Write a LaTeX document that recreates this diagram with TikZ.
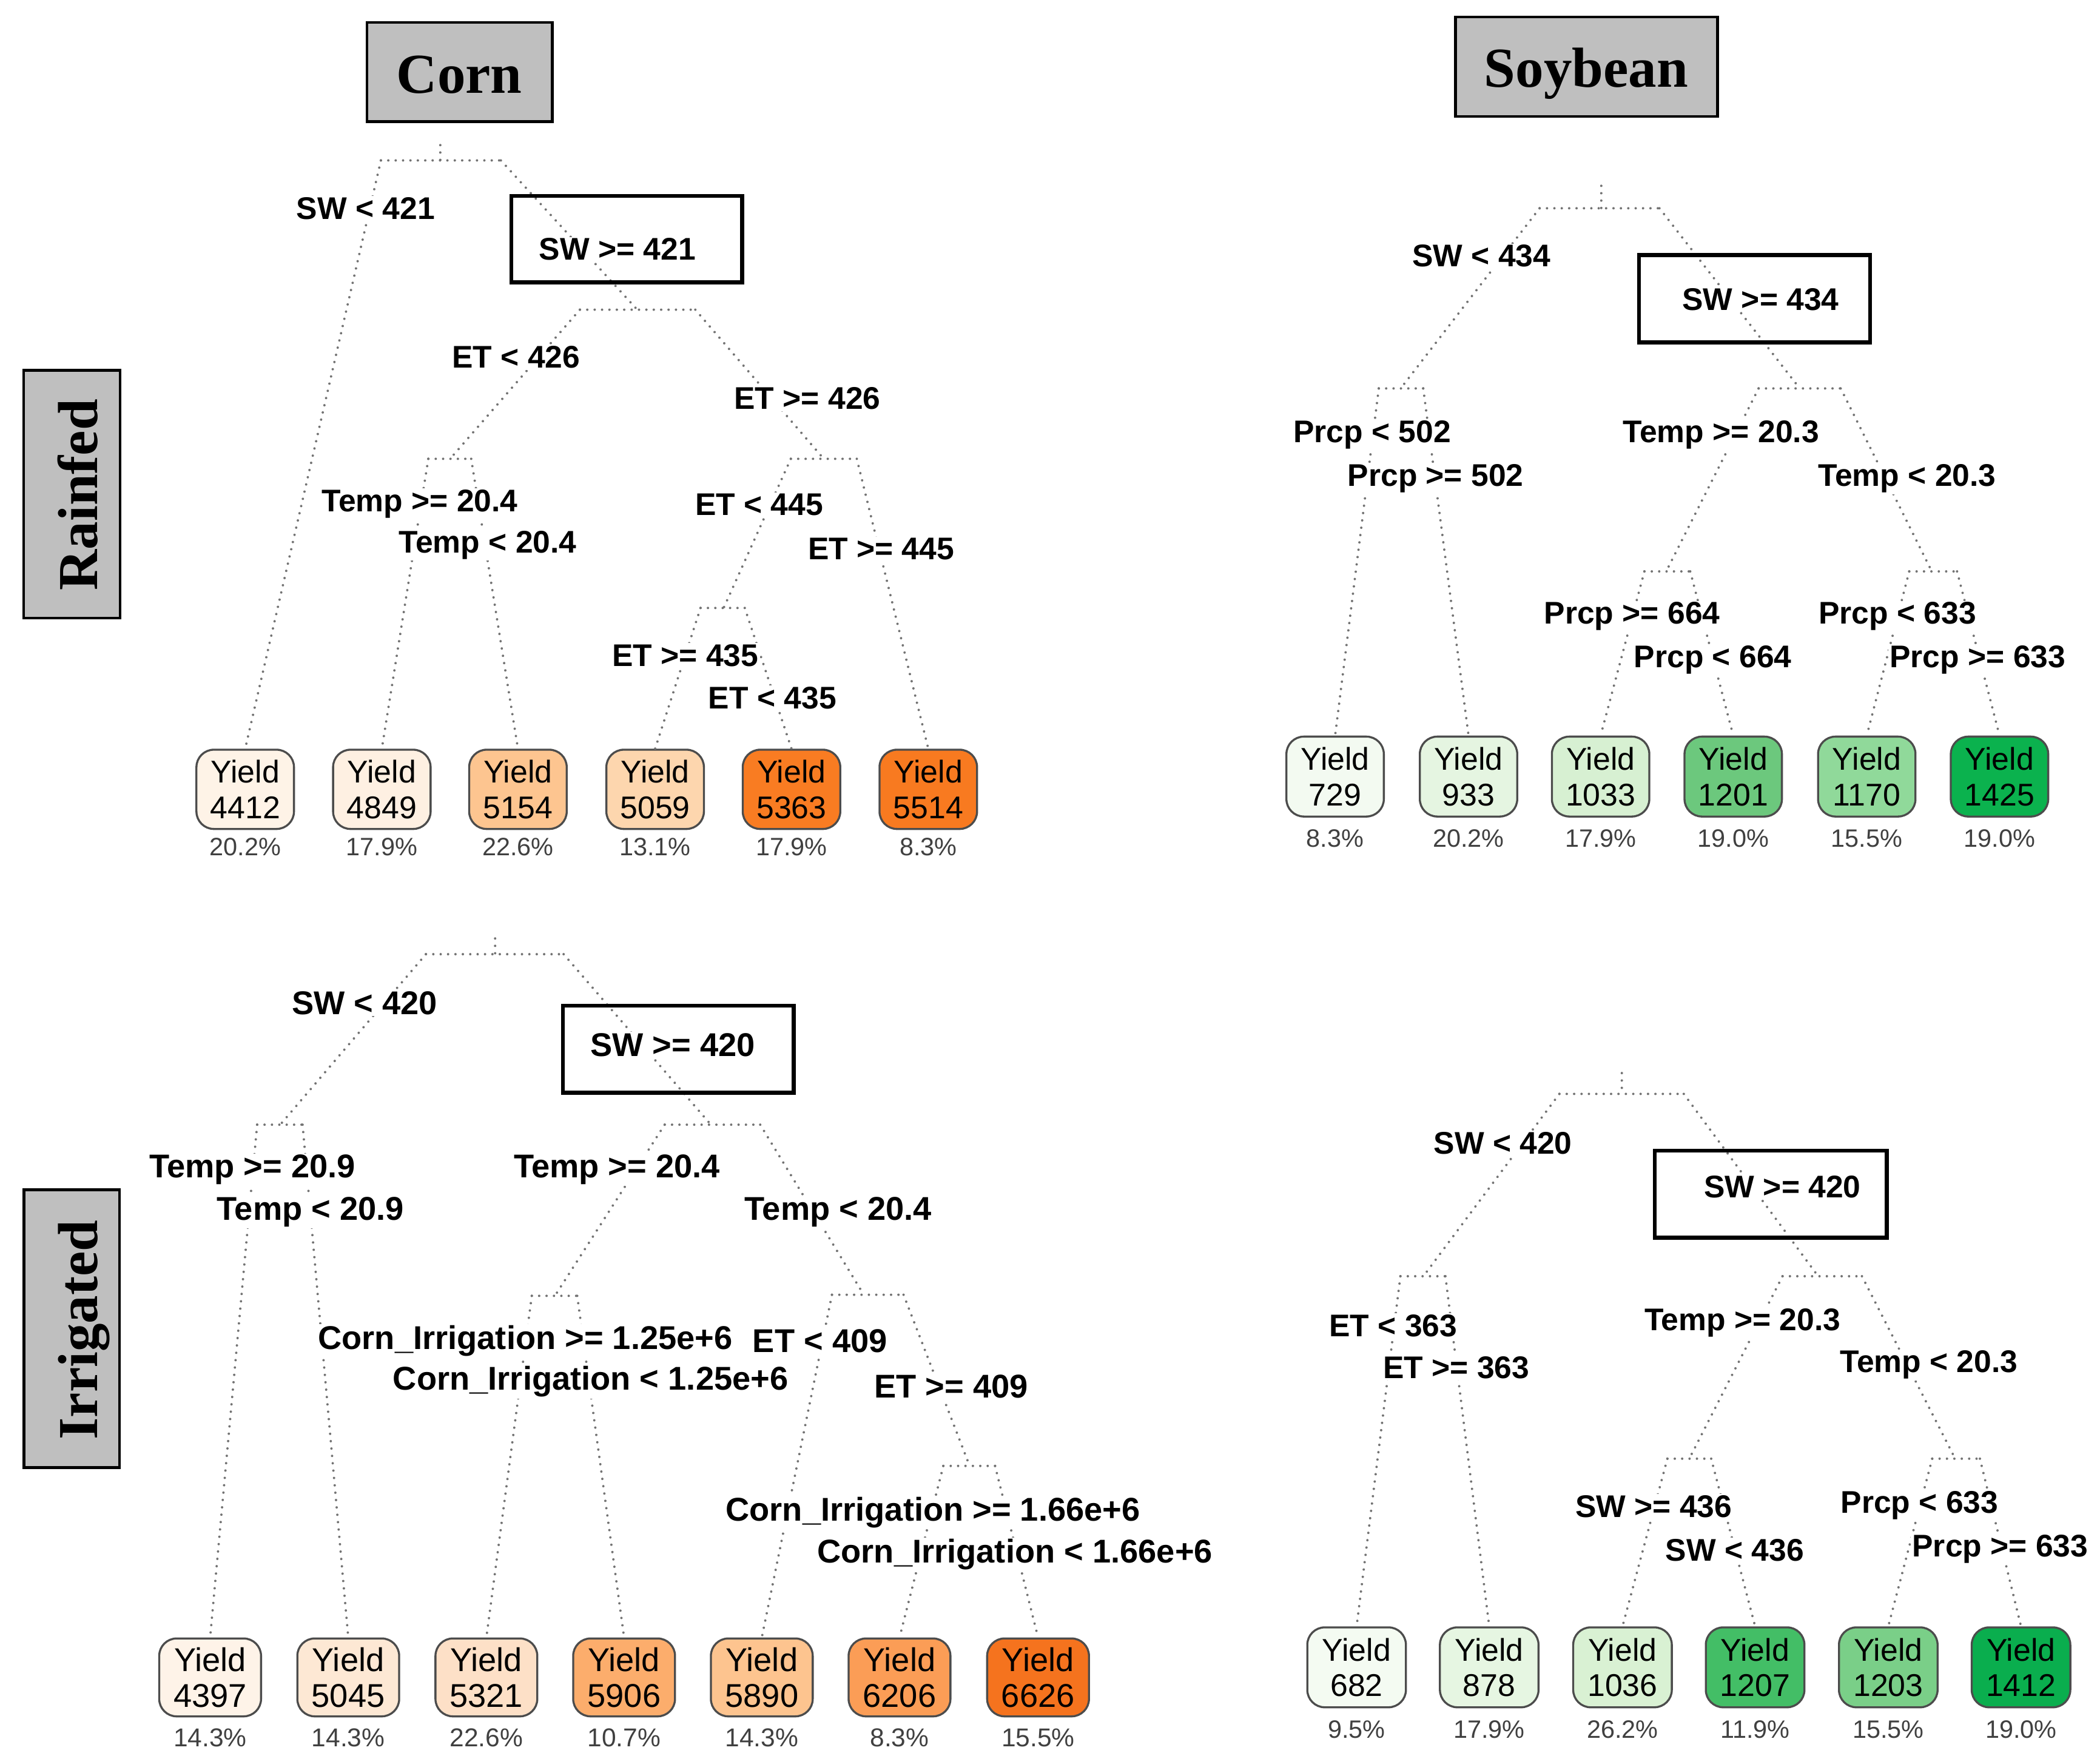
\documentclass[tikz,border=0pt]{standalone}
\usepackage{fontspec}
\newfontfamily\lsans{Liberation Sans}
\newfontfamily\lserif{Liberation Serif}
\definecolor{titlegray}{HTML}{BFBFBF}
\definecolor{cA1}{HTML}{FEF3E7}\definecolor{cA2}{HTML}{FEF0E2}\definecolor{cA3}{HTML}{FDC590}
\definecolor{cA4}{HTML}{FDD6AE}\definecolor{cA5}{HTML}{F97C22}\definecolor{cA6}{HTML}{F87A20}
\definecolor{cB1}{HTML}{F3FAF1}\definecolor{cB2}{HTML}{E5F5E1}\definecolor{cB3}{HTML}{D7F0D2}
\definecolor{cB4}{HTML}{6CC87D}\definecolor{cB5}{HTML}{90D99A}\definecolor{cB6}{HTML}{0BB24E}
\definecolor{cC1}{HTML}{FEF3E8}\definecolor{cC2}{HTML}{FDE8D4}\definecolor{cC3}{HTML}{FDE0C7}
\definecolor{cC4}{HTML}{FCAD6C}\definecolor{cC5}{HTML}{FDC48F}\definecolor{cC6}{HTML}{FB9D56}
\definecolor{cC7}{HTML}{F5731E}
\definecolor{cD1}{HTML}{F4FBF2}\definecolor{cD2}{HTML}{E6F6E2}\definecolor{cD3}{HTML}{D9F1D3}
\definecolor{cD4}{HTML}{43BE66}\definecolor{cD5}{HTML}{7ACF88}\definecolor{cD6}{HTML}{0AAE4E}
\newcommand\mkhat[5]{%
  \coordinate (#1) at (#2,#5);
  \coordinate (#1-l) at (#3,#5);
  \coordinate (#1-r) at (#4,#5);
  \draw[conn] (#1-l) -- (#1-r);}
\tikzset{
  conn/.style={draw=black!55, line width=1.8pt, line cap=round, dash pattern=on 0pt off 5.5pt},
  lbl/.style={fill=white, inner sep=1pt},
  lblA/.style={lbl, font=\lsans\bfseries\fontsize{23.3}{28}\selectfont},
  lblC/.style={lbl, font=\lsans\bfseries\fontsize{24.5}{29}\selectfont},
  leafbox/.style={draw=black!70, line width=1.5pt, rounded corners=13pt, align=center, inner sep=0pt,
    font=\lsans\fontsize{23.4}{26.4}\selectfont},
  leafA/.style={leafbox, minimum width=72.6pt, minimum height=59pt},
  leafB/.style={leafbox, minimum width=72.5pt, minimum height=59.5pt},
  leafC/.style={leafbox, minimum width=75.8pt, minimum height=58pt, font=\lsans\fontsize{24.5}{26.4}\selectfont},
  leafD/.style={leafbox, minimum width=73.4pt, minimum height=59.5pt},
  pct/.style={anchor=base, text=black!75, inner sep=0pt, font=\lsans\fontsize{18.7}{22}\selectfont},
  pctC/.style={pct, font=\lsans\fontsize{19.2}{22}\selectfont},
  selbox/.style={draw=black, line width=3pt},
  titlebox/.style={draw=black, line width=2pt, fill=titlegray},
  title/.style={font=\lserif\bfseries\fontsize{42}{50}\selectfont, anchor=base, inner sep=0pt},
}
\begin{document}
\begin{tikzpicture}[x=1pt,y=-1pt]
\useasboundingbox (0,0) rectangle (1563,1307);
\fill[white] (0,0) rectangle (1563,1307);

% ---------- titles ----------
\draw[titlebox] (273.2,16.8) rectangle (411,90.5);
\node[title] (tcorn) at (341.9,69.1) {Corn};
\draw[titlebox] (1083.3,12.6) rectangle (1278.3,86.7);
\node[title] (tsoy) at (1180.5,64.9) {Soybean};
\draw[titlebox] (17.7,275.7) rectangle (89.3,460);
\node[title, rotate=90] (train) at (72.6,368.3) {Rainfed};
\draw[titlebox] (17.8,885.6) rectangle (88.9,1092.4);
\node[title, rotate=90] (tirr) at (72.3,989.8) {Irrigated};

% ---------- Panel A: Corn rainfed ----------
\node[leafA, fill=cA1] (a1) at (182.5,587.5) {Yield\\4412};
\node[leafA, fill=cA2] (a2) at (284.2,587.5) {Yield\\4849};
\node[leafA, fill=cA3] (a3) at (385.5,587.5) {Yield\\5154};
\node[leafA, fill=cA4] (a4) at (487.6,587.5) {Yield\\5059};
\node[leafA, fill=cA5] (a5) at (589.1,587.5) {Yield\\5363};
\node[leafA, fill=cA6] (a6) at (690.9,587.5) {Yield\\5514};
\node[pct] (a1p) at (182.5,636.9) {20.2\%};
\node[pct] (a2p) at (284.2,636.9) {17.9\%};
\node[pct] (a3p) at (385.5,636.9) {22.6\%};
\node[pct] (a4p) at (487.6,636.9) {13.1\%};
\node[pct] (a5p) at (589.1,636.9) {17.9\%};
\node[pct] (a6p) at (690.9,636.9) {8.3\%};
\coordinate (aTop) at (327.7,108);
\mkhat{aR}{327.7}{283.5}{372.8}{119.4}
\mkhat{aN}{474.3}{431.6}{517.5}{230.5}
\mkhat{aT}{335}{318.8}{350.7}{341.5}
\mkhat{aE}{613.1}{588.6}{637.7}{341.5}
\mkhat{aF}{538.6}{521.4}{554.3}{452.5}
\draw[conn] (aTop) -- (aR);
\draw[conn] (aR-l) -- (a1.north);
\draw[conn] (aR-r) -- (aN);
\draw[conn] (aN-l) -- (aT);
\draw[conn] (aN-r) -- (aE);
\draw[conn] (aT-l) -- (a2.north);
\draw[conn] (aT-r) -- (a3.north);
\draw[conn] (aE-l) -- (aF);
\draw[conn] (aE-r) -- (a6.north);
\draw[conn] (aF-l) -- (a4.north);
\draw[conn] (aF-r) -- (a5.north);
\node[lblA] (la1) at (272.2,155) {SW < 421};
\node[lblA] (la2) at (459.6,185.6) {SW >= 421};
\node[lblA] (la3) at (384.1,266) {ET < 426};
\node[lblA] (la4) at (600.9,296.7) {ET >= 426};
\node[lblA] (la5) at (312.4,375) {Temp >= 20.4};
\node[lblA] (la6) at (363,405.6) {Temp < 20.4};
\node[lblA] (la7) at (565,375.8) {ET < 445};
\node[lblA] (la8) at (655.8,408.5) {ET >= 445};
\node[lblA] (la9) at (510.1,488) {ET >= 435};
\node[lblA] (la10) at (574.9,519.6) {ET < 435};
\draw[selbox] (380.6,145.8) rectangle (552.3,210.3);

% ---------- Panel B: Soybean rainfed ----------
\begin{scope}[xshift=-3pt]
\node[leafB, fill=cB1] (b1) at (996.7,578) {Yield\\729};
\node[leafB, fill=cB2] (b2) at (1096,578) {Yield\\933};
\node[leafB, fill=cB3] (b3) at (1194.3,578) {Yield\\1033};
\node[leafB, fill=cB4] (b4) at (1293,578) {Yield\\1201};
\node[leafB, fill=cB5] (b5) at (1392.4,578) {Yield\\1170};
\node[leafB, fill=cB6] (b6) at (1491.2,578) {Yield\\1425};
\node[pct] (b1p) at (996.7,630.6) {8.3\%};
\node[pct] (b2p) at (1096,630.6) {20.2\%};
\node[pct] (b3p) at (1194.3,630.6) {17.9\%};
\node[pct] (b4p) at (1293,630.6) {19.0\%};
\node[pct] (b5p) at (1392.4,630.6) {15.5\%};
\node[pct] (b6p) at (1491.2,630.6) {19.0\%};
\coordinate (bTop) at (1194.8,138.3);
\mkhat{bR}{1194.8}{1148.9}{1238.1}{155}
\mkhat{bP}{1045.5}{1029.2}{1062.3}{289.1}
\mkhat{bT}{1342.5}{1311.9}{1373}{289.1}
\mkhat{bQ}{1243.1}{1226.9}{1261}{425.3}
\mkhat{bS}{1440.8}{1424}{1459.6}{425.3}
\draw[conn] (bTop) -- (bR);
\draw[conn] (bR-l) -- (bP);
\draw[conn] (bR-r) -- (bT);
\draw[conn] (bP-l) -- (b1.north);
\draw[conn] (bP-r) -- (b2.north);
\draw[conn] (bT-l) -- (bQ);
\draw[conn] (bT-r) -- (bS);
\draw[conn] (bQ-l) -- (b3.north);
\draw[conn] (bQ-r) -- (b4.north);
\draw[conn] (bS-l) -- (b5.north);
\draw[conn] (bS-r) -- (b6.north);
\node[lblA] (lb1) at (1105.6,190.6) {SW < 434};
\node[lblA] (lb2) at (1313.4,222.9) {SW >= 434};
\node[lblA] (lb3) at (1024.2,323.5) {Prcp < 502};
\node[lblA] (lb4) at (1071.5,356.2) {Prcp >= 502};
\node[lblA] (lb5) at (1283.9,323.5) {Temp >= 20.3};
\node[lblA] (lb6) at (1422.4,356.2) {Temp < 20.3};
\node[lblA] (lb7) at (1217.7,458.8) {Prcp >= 664};
\node[lblA] (lb8) at (1277.8,491.1) {Prcp < 664};
\node[lblA] (lb9) at (1415.3,458.8) {Prcp < 633};
\node[lblA] (lb10) at (1474.9,491.1) {Prcp >= 633};
\draw[selbox] (1222.8,189.8) rectangle (1394.9,254.8);
\end{scope}

% ---------- Panel C: Corn irrigated ----------
\node[leafC, fill=cC1] (c1) at (156.4,1248.5) {Yield\\4397};
\node[leafC, fill=cC2] (c2) at (259.2,1248.5) {Yield\\5045};
\node[leafC, fill=cC3] (c3) at (362,1248.5) {Yield\\5321};
\node[leafC, fill=cC4] (c4) at (464.5,1248.5) {Yield\\5906};
\node[leafC, fill=cC5] (c5) at (567,1248.5) {Yield\\5890};
\node[leafC, fill=cC6] (c6) at (669.5,1248.5) {Yield\\6206};
\node[leafC, fill=cC7] (c7) at (772.6,1248.5) {Yield\\6626};
\node[pctC] (c1p) at (156.4,1299.9) {14.3\%};
\node[pctC] (c2p) at (259.2,1299.9) {14.3\%};
\node[pctC] (c3p) at (362,1299.9) {22.6\%};
\node[pctC] (c4p) at (464.5,1299.9) {10.7\%};
\node[pctC] (c5p) at (567,1299.9) {14.3\%};
\node[pctC] (c6p) at (669.5,1299.9) {8.3\%};
\node[pctC] (c7p) at (772.6,1299.9) {15.5\%};
\coordinate (cTop) at (368.5,698.5);
\mkhat{cR}{368.5}{317}{419.5}{710.2}
\mkhat{cA}{208.6}{191.4}{225.2}{837.1}
\mkhat{cB}{529.1}{494.7}{565.8}{837.1}
\mkhat{cI}{413}{395.8}{429.6}{964.5}
\mkhat{cE}{642.9}{619.2}{672.5}{963.7}
\mkhat{cJ}{721.7}{702.1}{740.6}{1091.1}
\draw[conn] (cTop) -- (cR);
\draw[conn] (cR-l) -- (cA);
\draw[conn] (cR-r) -- (cB);
\draw[conn] (cA-l) -- (c1.north);
\draw[conn] (cA-r) -- (c2.north);
\draw[conn] (cB-l) -- (cI);
\draw[conn] (cB-r) -- (cE);
\draw[conn] (cI-l) -- (c3.north);
\draw[conn] (cI-r) -- (c4.north);
\draw[conn] (cE-l) -- (c5.north);
\draw[conn] (cE-r) -- (cJ);
\draw[conn] (cJ-l) -- (c6.north);
\draw[conn] (cJ-r) -- (c7.north);
\node[lblC] (lc1) at (271.4,746.5) {SW < 420};
\node[lblC] (lc2) at (500.7,777.8) {SW >= 420};
\node[lblC] (lc3) at (187.8,870.6) {Temp >= 20.9};
\node[lblC] (lc4) at (231.1,901.9) {Temp < 20.9};
\node[lblC] (lc5) at (459.2,870.6) {Temp >= 20.4};
\node[lblC] (lc6) at (623.9,901.9) {Temp < 20.4};
\node[lblC] (lc7) at (391,998) {Corn\_Irrigation >= 1.25e+6};
\node[lblC] (lc8) at (439.6,1028.4) {Corn\_Irrigation < 1.25e+6};
\node[lblC] (lc9) at (610.3,998) {ET < 409};
\node[lblC] (lc10) at (708,1031.8) {ET >= 409};
\node[lblC] (lc11) at (694.4,1125.8) {Corn\_Irrigation >= 1.66e+6};
\node[lblC] (lc12) at (755.4,1157.1) {Corn\_Irrigation < 1.66e+6};
\draw[selbox] (418.9,748.6) rectangle (590.7,813.3);

% ---------- Panel D: Soybean irrigated ----------
\begin{scope}[xshift=-4pt]
\node[leafD, fill=cD1] (d1) at (1013.7,1241) {Yield\\682};
\node[leafD, fill=cD2] (d2) at (1112.4,1241) {Yield\\878};
\node[leafD, fill=cD3] (d3) at (1211.6,1241) {Yield\\1036};
\node[leafD, fill=cD4] (d4) at (1310.3,1241) {Yield\\1207};
\node[leafD, fill=cD5] (d5) at (1409.4,1241) {Yield\\1203};
\node[leafD, fill=cD6] (d6) at (1508.2,1241) {Yield\\1412};
\node[pct] (d1p) at (1013.7,1293.7) {9.5\%};
\node[pct] (d2p) at (1112.4,1293.7) {17.9\%};
\node[pct] (d3p) at (1211.6,1293.7) {26.2\%};
\node[pct] (d4p) at (1310.3,1293.7) {11.9\%};
\node[pct] (d5p) at (1409.4,1293.7) {15.5\%};
\node[pct] (d6p) at (1508.2,1293.7) {19.0\%};
\coordinate (dTop) at (1211.1,798.7);
\mkhat{dR}{1211.1}{1164.6}{1257.2}{814.2}
\mkhat{dE}{1063.4}{1046.3}{1079.8}{949.9}
\mkhat{dT}{1357.2}{1330.7}{1389.8}{949.9}
\mkhat{dS}{1261.3}{1245}{1277.6}{1085.7}
\mkhat{dP}{1459.2}{1442.1}{1477.6}{1085.7}
\draw[conn] (dTop) -- (dR);
\draw[conn] (dR-l) -- (dE);
\draw[conn] (dR-r) -- (dT);
\draw[conn] (dE-l) -- (d1.north);
\draw[conn] (dE-r) -- (d2.north);
\draw[conn] (dT-l) -- (dS);
\draw[conn] (dT-r) -- (dP);
\draw[conn] (dS-l) -- (d3.north);
\draw[conn] (dS-r) -- (d4.north);
\draw[conn] (dP-l) -- (d5.north);
\draw[conn] (dP-r) -- (d6.north);
\node[lblA] (ld1) at (1122.6,850.9) {SW < 420};
\node[lblA] (ld2) at (1330.7,883.5) {SW >= 420};
\node[lblA] (ld3) at (1041,986.7) {ET < 363};
\node[lblA] (ld4) at (1087.9,1018) {ET >= 363};
\node[lblA] (ld5) at (1300.9,984.6) {Temp >= 20.3};
\node[lblA] (ld6) at (1439.6,1015.9) {Temp < 20.3};
\node[lblA] (ld7) at (1234.8,1121.2) {SW >= 436};
\node[lblA] (ld8) at (1295.2,1153.8) {SW < 436};
\node[lblA] (ld9) at (1432.7,1120.3) {Prcp < 633};
\node[lblA] (ld10) at (1492.7,1152.9) {Prcp >= 633};
\draw[selbox] (1235.6,856.4) rectangle (1408.2,921.1);
\end{scope}
\end{tikzpicture}
\end{document}
